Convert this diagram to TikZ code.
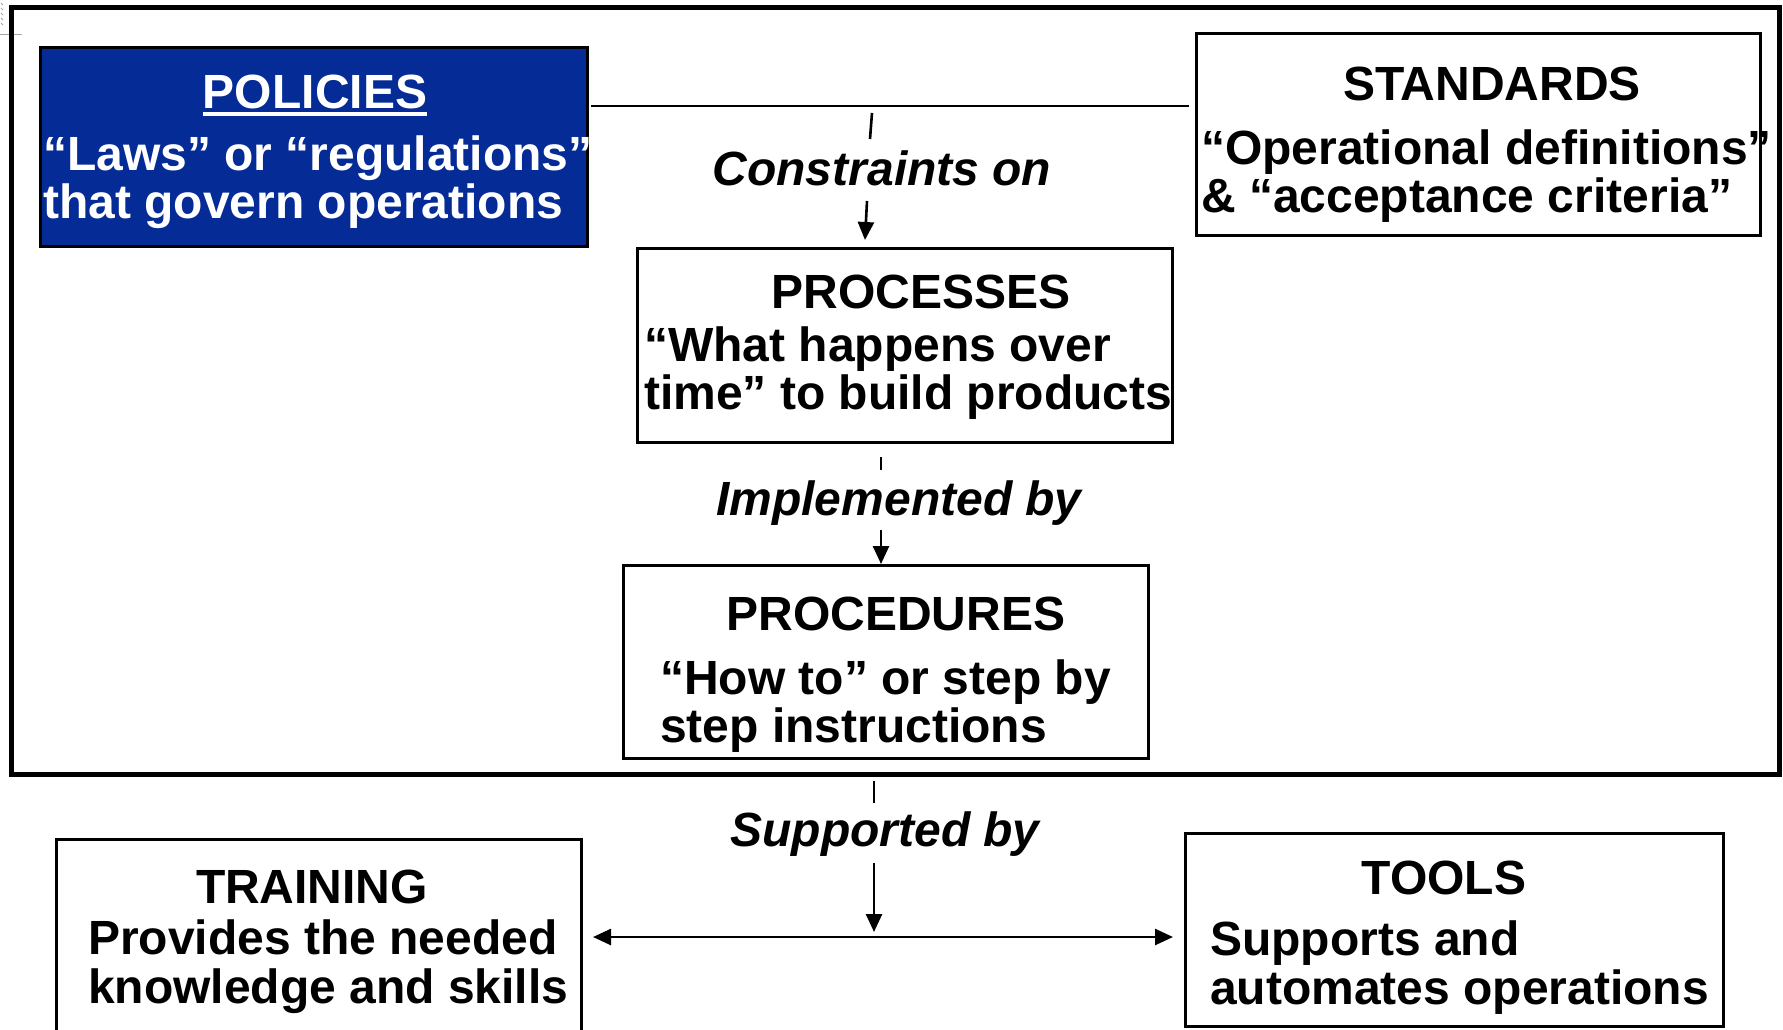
\documentclass[tikz,border=0pt]{standalone}
\usepackage{fontspec}
\setmainfont{Liberation Sans}
\usetikzlibrary{arrows.meta}

\definecolor{polblue}{RGB}{4,43,150}

\tikzset{
  box/.style={draw=black, line width=2.6pt, anchor=north west, inner sep=0pt},
  txt/.style={anchor=base west, inner sep=0pt,
    font=\fontsize{48}{48}\selectfont\bfseries},
  ttl/.style={anchor=base, inner sep=0pt,
    font=\fontsize{48}{48}\selectfont\bfseries},
  lbl/.style={anchor=base, inner sep=0pt,
    font=\fontsize{48}{48}\selectfont\bfseries\itshape},
  conn/.style={draw=black, line width=2.6pt},
  head/.tip={Triangle[length=18pt,width=16pt]},
  tip/.style={-head},
}

\begin{document}
\begin{tikzpicture}[x=1pt,y=-1pt]
\useasboundingbox (0,0) rectangle (1783,1029);

% stray page marks in the corner
\draw[gray!70, line width=0.8pt] (0,34) -- (22,34);
\foreach \yy in {3,8,13,18,23}
  \draw[gray!70, line width=0.9pt] (1,\yy) -- (3,\yy+2);

% outer frame around policies, standards, processes and procedures
\draw[line width=5pt] (11,7) rectangle (1779,774);

% boxes
\node[box, fill=polblue, minimum width=547pt, minimum height=199pt] (pol) at (39,46) {};
\node[box, minimum width=564pt, minimum height=202pt] (std) at (1195,32) {};
\node[box, minimum width=535pt, minimum height=194pt] (proc) at (636,247) {};
\node[box, minimum width=525pt, minimum height=193pt] (procd) at (622,564) {};
\node[box, minimum width=525pt, minimum height=200pt] (trn) at (55,838) {};
\node[box, minimum width=538pt, minimum height=193pt] (tools) at (1184,832) {};

% policies
\node[ttl, text=white] (polT) at (315,108) {POLICIES};
\draw[white, line width=4pt] ([yshift=-6pt]polT.base west) -- ([yshift=-6pt]polT.base east);
\node[txt, text=white] (polA) at (43,170) {“Laws” or “regulations”};
\node[txt, text=white] (polB) at (43,218) {that govern operations};

% standards
\node[ttl] (stdT) at (1492,100) {STANDARDS};
\node[txt] (stdA) at (1201,164) {“Operational definitions”};
\node[txt] (stdB) at (1201,212) {\& “acceptance criteria”};

% processes
\node[ttl] (procT) at (921,308) {PROCESSES};
\node[txt] (procA) at (644,361) {“What happens over};
\node[txt] (procB) at (644,409) {time” to build products};

% procedures
\node[ttl] (procdT) at (896,630) {PROCEDURES};
\node[txt] (procdA) at (660,694) {“How to” or step by};
\node[txt] (procdB) at (660,742) {step instructions};

% training
\node[ttl] (trnT) at (312,903) {TRAINING};
\node[txt] (trnA) at (88,954) {Provides the needed};
\node[txt] (trnB) at (88,1003) {knowledge and skills};

% tools
\node[ttl] (toolsT) at (1444,894) {TOOLS};
\node[txt] (toolsA) at (1210,955) {Supports and};
\node[txt] (toolsB) at (1210,1004) {automates operations};

% relation labels
\node[lbl] (lcons) at (882,185) {Constraints on};
\node[lbl] (limpl) at (899,515) {Implemented by};
\node[lbl] (lsupp) at (885,846) {Supported by};

% connector end points
\coordinate (hA) at (591,106);
\coordinate (hB) at (1189,106);
\coordinate (c1) at (872,113);
\coordinate (c2) at (870,139);
\coordinate (c3) at (867,201);
\coordinate (c4) at (865,240);
\coordinate (i1) at (881,457);
\coordinate (i2) at (881,470);
\coordinate (i3) at (881,530);
\coordinate (i4) at (881,564);
\coordinate (s1) at (874,781);
\coordinate (s2) at (874,803);
\coordinate (s3) at (874,863);
\coordinate (s4) at (874,932);
\coordinate (tl) at (593,937);
\coordinate (tr) at (1173,937);

% policies -- standards
\draw[conn] (hA) -- (hB);
% constraints on processes
\draw[conn] (c1) -- (c2);
\draw[conn, tip] (c3) -- (c4);
% processes implemented by procedures
\draw[conn] (i1) -- (i2);
\draw[conn, tip] (i3) -- (i4);
% procedures supported by training and tools
\draw[conn] (s1) -- (s2);
\draw[conn, tip] (s3) -- (s4);
\draw[conn, head-head] (tl) -- (tr);
\end{tikzpicture}
\end{document}
